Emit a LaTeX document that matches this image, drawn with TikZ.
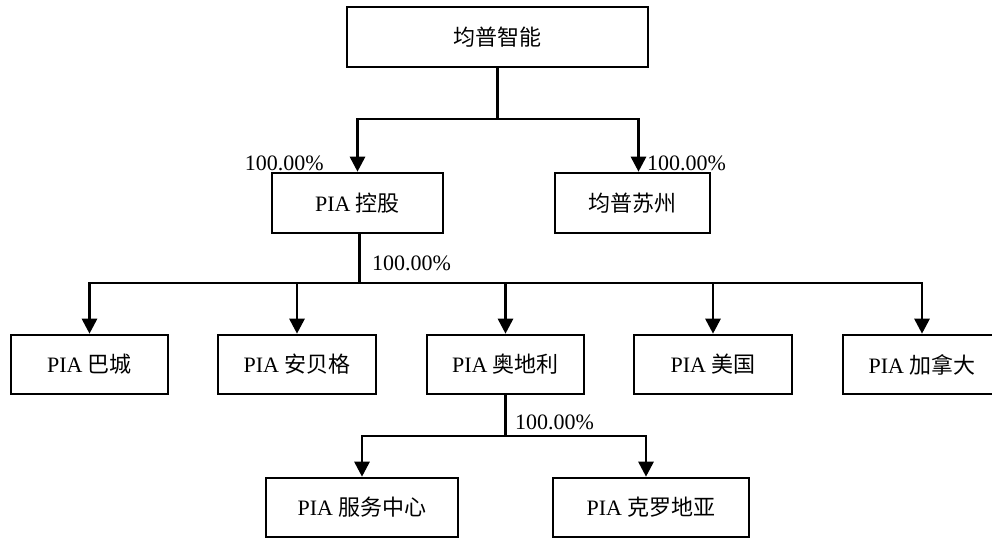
\documentclass[tikz,border=0pt]{standalone}
\usepackage{fontspec}
\setmainfont{Liberation Serif}
\newfontfamily\cjk{Noto Sans CJK SC}
\usetikzlibrary{arrows.meta}
\tikzset{
    firm/.style={draw, line width=2.6pt, minimum height=59pt, inner sep=0pt, font=\fontsize{22}{26}\selectfont}, % 公司框
    own/.style={line width=2.8pt, -{Triangle[width=15pt,length=15pt]}}, % 持股连线
    pct/.style={inner sep=0pt, font=\fontsize{22}{26}\selectfont} % 持股比例
}

\begin{document}
\begin{tikzpicture}[x=1pt, y=-1pt]
    \useasboundingbox (0,0) rectangle (992,541);

    % 第一层
    \node[firm, minimum width=301pt, minimum height=60pt] (jp) at (497.5,37) {\cjk 均普智能};

    % 第二层
    \node[firm, minimum width=171pt, minimum height=60pt] (kg) at (357.5,203) {PIA {\cjk 控股}};
    \node[firm, minimum width=155pt, minimum height=60pt] (sz) at (632.5,203) {\cjk 均普苏州};

    % 第三层
    \node[firm, minimum width=157pt] (bc)  at (89.5,364.5)  {PIA {\cjk 巴城}};
    \node[firm, minimum width=158pt] (abg) at (297,364.5)   {PIA {\cjk 安贝格}};
    \node[firm, minimum width=157pt] (adl) at (505.5,364.5) {PIA {\cjk 奥地利}};
    \node[firm, minimum width=158pt] (mg)  at (713,364.5)   {PIA {\cjk 美国}};
    \node[firm, minimum width=158pt] (jnd) at (922,364.5)   {PIA {\cjk 加拿大}};

    % 第四层
    \node[firm, minimum width=192pt] (fw)  at (362,507.5) {PIA {\cjk 服务中心}};
    \node[firm, minimum width=196pt] (kld) at (651,507.5) {PIA {\cjk 克罗地亚}};

    % 连线
    \coordinate (b1) at (jp.south |- 0,119);
    \draw[own] (jp.south) -- (b1) -| (kg.north);
    \draw[own] (jp.south) -- (b1) -| ([xshift=6pt]sz.north);

    \coordinate (b2) at ([xshift=2pt]kg.south |- 0,283);
    \foreach \c in {bc,abg,adl,mg,jnd} {\draw[own] ([xshift=2pt]kg.south) -- (b2) -| (\c.north);}

    \coordinate (b3) at (adl.south |- 0,436);
    \draw[own] (adl.south) -- (b3) -| (fw.north);
    \draw[own] (adl.south) -- (b3) -| ([xshift=-5pt]kld.north);

    % 比例
    \node[pct, anchor=east] (p1) at (324,163) {100.00\%};
    \node[pct, anchor=west] (p2) at (647,163) {100.00\%};
    \node[pct, anchor=west] (p3) at (372,263) {100.00\%};
    \node[pct, anchor=west] (p4) at (515,422) {100.00\%};
\end{tikzpicture}
\end{document}
